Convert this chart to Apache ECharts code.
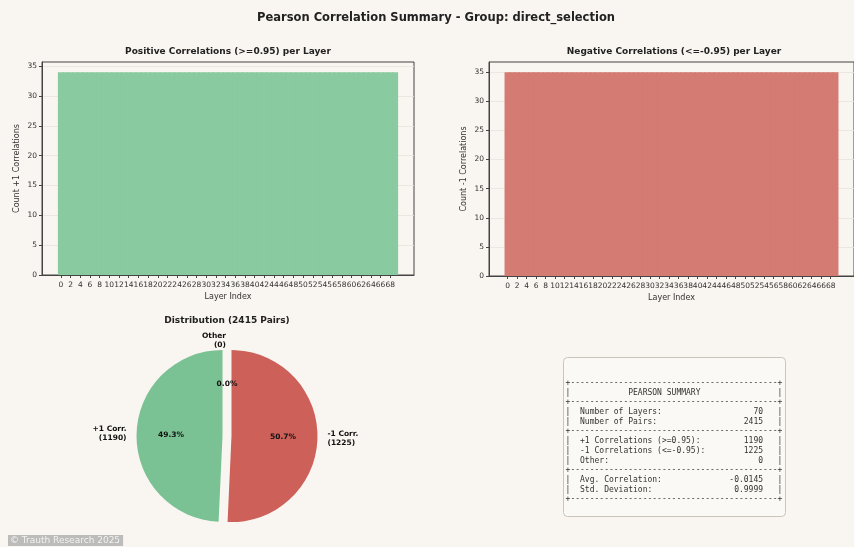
<!DOCTYPE html>
<html>
<head>
<meta charset="utf-8">
<script src="https://cdn.jsdelivr.net/npm/echarts@6/dist/echarts.min.js"></script>
<style>
html,body{margin:0;padding:0;background:#f9f5f0;}
#main{width:854px;height:547px;}
</style>
</head>
<body>
<div id="main"></div>
<script>
// ---- data ----
const layerIndex = [0,1,2,3,4,5,6,7,8,9,10,11,12,13,14,15,16,17,18,19,20,21,22,23,24,25,26,27,28,29,30,31,32,33,34,35,36,37,38,39,40,41,42,43,44,45,46,47,48,49,50,51,52,53,54,55,56,57,58,59,60,61,62,63,64,65,66,67,68,69];
const positiveCounts = [34,34,34,34,34,34,34,34,34,34,34,34,34,34,34,34,34,34,34,34,34,34,34,34,34,34,34,34,34,34,34,34,34,34,34,34,34,34,34,34,34,34,34,34,34,34,34,34,34,34,34,34,34,34,34,34,34,34,34,34,34,34,34,34,34,34,34,34,34,34];
const negativeCounts = [35,35,35,35,35,35,35,35,35,35,35,35,35,35,35,35,35,35,35,35,35,35,35,35,35,35,35,35,35,35,35,35,35,35,35,35,35,35,35,35,35,35,35,35,35,35,35,35,35,35,35,35,35,35,35,35,35,35,35,35,35,35,35,35,35,35,35,35,35,35];
const xTickLabels = [0,2,4,6,8,10,12,14,16,18,20,22,24,26,28,30,32,34,36,38,40,42,44,46,48,50,52,54,56,58,60,62,64,66,68];
const yTickLabels = [0,5,10,15,20,25,30,35];
const pieNames = ['+1 Corr.', '-1 Corr.', 'Other'];
const pieValues = [1190, 1225, 0];
const pieExploded = [true, true, false];
const summaryLabels = ['Number of Layers:', 'Number of Pairs:', '+1 Correlations (>=0.95):', '-1 Correlations (<=-0.95):', 'Other:', 'Avg. Correlation:', 'Std. Deviation:'];
const summaryValues = ['70', '2415', '1190', '1225', '0', '-0.0145', '0.9999'];

// ---- colours ----
const BG = '#f9f5f0';
const barGreen = '#89caa0';
const barRed = '#d47b73';
const pieGreen = '#7ac193';
const pieRed = '#cd6058';
const FONT = 'DejaVu Sans';

// ---- summary text ----
function row(label, value) {
  return '|  ' + label + ' '.repeat(38 - label.length - value.length) + value + '   |';
}
const border = '+' + '-'.repeat(43) + '+';
const summaryLines = [
  border,
  '|' + ' '.repeat(12) + 'PEARSON SUMMARY' + ' '.repeat(16) + '|',
  border,
  row(summaryLabels[0], summaryValues[0]),
  row(summaryLabels[1], summaryValues[1]),
  border,
  row(summaryLabels[2], summaryValues[2]),
  row(summaryLabels[3], summaryValues[3]),
  row(summaryLabels[4], summaryValues[4]),
  border,
  row(summaryLabels[5], summaryValues[5]),
  row(summaryLabels[6], summaryValues[6]),
  border
];

const chart = echarts.init(document.getElementById('main'), null, {renderer: 'canvas'});

function xAxisCfg(gridIndex) {
  return {
    type: 'value', gridIndex: gridIndex, min: -3.9, max: 72.9,
    name: 'Layer Index', nameLocation: 'middle', nameGap: 18,
    nameTextStyle: {fontFamily: FONT, fontSize: 8, color: '#333'},
    axisLine: {show: true, onZero: false, lineStyle: {color: '#444', width: 1}},
    axisTick: {show: true, length: 3, customValues: xTickLabels, lineStyle: {color: '#444'}},
    axisLabel: {customValues: xTickLabels, fontFamily: FONT, fontSize: 7.5, color: '#333', margin: 6},
    splitLine: {show: false}
  };
}
function yAxisCfg(gridIndex, max, name) {
  return {
    type: 'value', gridIndex: gridIndex, min: 0, max: max, interval: 5,
    name: name, nameLocation: 'middle', nameGap: 21,
    nameTextStyle: {fontFamily: FONT, fontSize: 8, color: '#333'},
    axisLine: {show: true, onZero: false, lineStyle: {color: '#444', width: 1}},
    axisTick: {show: true, length: 3, customValues: yTickLabels, lineStyle: {color: '#444'}},
    axisLabel: {customValues: yTickLabels, fontFamily: FONT, fontSize: 7.5, color: '#333', margin: 5},
    splitLine: {show: true, lineStyle: {color: '#e8e3dc', width: 0.8}}
  };
}

const titleStyle = (size) => ({fontFamily: FONT, fontSize: size, fontWeight: 'bold', color: '#222'});

const option = {
  backgroundColor: BG,
  animation: false,
  title: [
    {text: 'Pearson Correlation Summary - Group: direct_selection', left: 436, top: 12, textAlign: 'center', padding: 0,
     textStyle: titleStyle(11.5)},
    {text: 'Positive Correlations (>=0.95) per Layer', left: 228, top: 47, textAlign: 'center', padding: 0,
     textStyle: titleStyle(9)},
    {text: 'Negative Correlations (<=-0.95) per Layer', left: 674, top: 47, textAlign: 'center', padding: 0,
     textStyle: titleStyle(9)},
    {text: 'Distribution (2415 Pairs)', left: 227, top: 316, textAlign: 'center', padding: 0,
     textStyle: titleStyle(9)}
  ],
  grid: [
    {left: 42, right: 440, top: 62, bottom: 272, show: true, borderColor: '#444', borderWidth: 1, backgroundColor: 'transparent'},
    {left: 489, right: -6, top: 62, bottom: 271, show: true, borderColor: '#444', borderWidth: 1, backgroundColor: 'transparent'}
  ],
  xAxis: [xAxisCfg(0), xAxisCfg(1)],
  yAxis: [yAxisCfg(0, 35.7, 'Count +1 Correlations'), yAxisCfg(1, 36.75, 'Count -1 Correlations')],
  series: [
    {type: 'bar', xAxisIndex: 0, yAxisIndex: 0, barWidth: 6,
     data: layerIndex.map((l, i) => [l, positiveCounts[i]]),
     itemStyle: {color: barGreen}},
    {type: 'bar', xAxisIndex: 1, yAxisIndex: 1, barWidth: 6,
     data: layerIndex.map((l, i) => [l, negativeCounts[i]]),
     itemStyle: {color: barRed}},
    {type: 'pie', center: [227, 436], radius: [0, 86], startAngle: 90, clockwise: false,
     avoidLabelOverlap: false, selectedMode: 'multiple', selectedOffset: 4.5,
     label: {show: true, position: 'outside', formatter: p => p.name + '\n(' + p.value + ')',
       fontFamily: FONT, fontSize: 7.5, fontWeight: 'bold', color: '#111', lineHeight: 9},
     labelLine: {show: false, length: 3, length2: 2},
     labelLayout: p => (p.dataIndex === 2 ? {align: 'right', dx: -6} : {}),
     emphasis: {disabled: true},
     data: pieNames.map((n, i) => ({name: n, value: pieValues[i], selected: pieExploded[i],
       itemStyle: {color: [pieGreen, pieRed, '#bbbbbb'][i]},
       labelLine: i === 2 ? {length: 9, length2: 0} : undefined}))},
    {type: 'pie', center: [227, 436], radius: [0, 97], startAngle: 90, clockwise: false, silent: true,
     avoidLabelOverlap: false, selectedMode: 'multiple', selectedOffset: 4.5,
     label: {show: true, position: 'inside', formatter: p => p.percent.toFixed(1) + '%',
       fontFamily: FONT, fontSize: 7.5, fontWeight: 'bold', color: '#111'},
     labelLine: {show: false},
     emphasis: {disabled: true},
     data: pieNames.map((n, i) => ({name: n, value: pieValues[i], selected: pieExploded[i],
       itemStyle: {color: 'rgba(0,0,0,0)'}}))}
  ],
  graphic: [
    {type: 'rect', left: 563, top: 357, shape: {width: 222, height: 159, r: 4},
     style: {fill: '#fbf9f5', stroke: '#cbc4ba', lineWidth: 1}, z: 1},
    {type: 'text', left: 565.6, top: 378, z: 2,
     style: {text: summaryLines.join('\n'), fontFamily: 'DejaVu Sans Mono', fontSize: 8, lineHeight: 9.7, fill: '#333'}},
    {type: 'text', left: 8, top: 535, z: 2,
     style: {text: '\u00a9 Trauth Research 2025', fontFamily: FONT, fontSize: 9, fill: '#f2f2f2',
       backgroundColor: '#bcbcba', padding: [1, 3, 1, 2]}}
  ]
};
chart.setOption(option);
</script>
</body>
</html>
